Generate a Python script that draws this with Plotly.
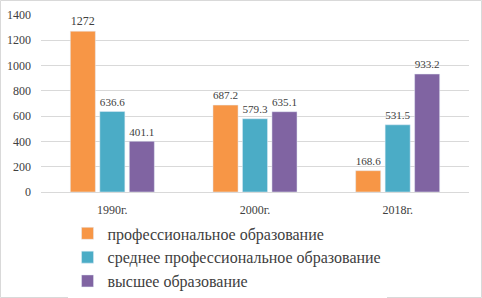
import plotly.graph_objects as go

categories = ["1990г.", "2000г.", "2018г."]
series_names = ["профессиональное образование", "среднее профессиональное образование", "высшее образование"]
prof = [1272, 687.2, 168.6]
sred = [636.6, 579.3, 531.5]
vyssh = [401.1, 635.1, 933.2]
colors = ["#F79646", "#4BACC6", "#8064A2"]

W, H = 482, 298
L, R, T, B = 41, 13, 15, 106
FONT = "Liberation Serif, Times New Roman, serif"

fig = go.Figure()
for name, vals, col in zip(series_names, [prof, sred, vyssh], colors):
    fig.add_trace(go.Bar(
        x=categories, y=vals, name=name, marker_color=col,
        text=[f"{v:g}" for v in vals], textposition="outside",
        textfont=dict(family=FONT, size=12, color="#404040"),
        cliponaxis=False,
    ))

pw, ph = W - L - R, H - T - B
fig.update_layout(
    width=W, height=H,
    margin=dict(l=L, r=R, t=T, b=B, pad=0, autoexpand=False),
    paper_bgcolor="white", plot_bgcolor="white",
    barmode="group", bargap=0.38, bargroupgap=0.15,
    font=dict(family=FONT, size=12, color="#404040"),
    xaxis=dict(showgrid=False, showline=True, linecolor="#d9d9d9", ticks="",
               automargin=False, ticklabelstandoff=7,
               tickfont=dict(family=FONT, size=12, color="#404040")),
    yaxis=dict(range=[0, 1400], dtick=200, showgrid=True, gridcolor="#d9d9d9",
               automargin=False, zeroline=False, ticks="",
               tickfont=dict(family=FONT, size=12, color="#404040"),
               ticklabelstandoff=9),
    showlegend=True,
    legend=dict(x=0.062, xanchor="left", y=-0.138, yanchor="top",
                font=dict(family=FONT, size=16, color="#404040"),
                tracegroupgap=0, itemwidth=30),
    shapes=[dict(type="rect", xref="paper", yref="paper",
                 x0=(0.5 - L) / pw, x1=(W - 0.5 - L) / pw,
                 y0=(H - B - (H - 0.5)) / ph, y1=(H - B - 0.5) / ph,
                 line=dict(color="#d9d9d9", width=1), layer="below")],
)
fig.write_html("out.html", config={"displayModeBar": False},
               post_script="document.body.style.margin='0';document.body.style.overflow='hidden';")
